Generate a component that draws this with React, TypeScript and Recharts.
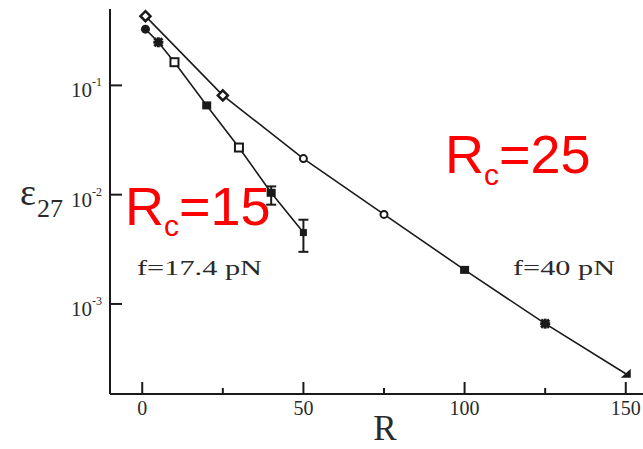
import { ErrorBar, Line, LineChart, XAxis, YAxis } from "recharts";

// f = 40 pN  (Rc = 25)
const R_F40 = [1, 25, 50, 75, 100, 125, 150];
const EPS_F40 = [0.43, 0.081, 0.0214, 0.0066, 0.00205, 0.00066, 0.00023];

// f = 17.4 pN  (Rc = 15)
const R_F17 = [1, 5, 10, 20, 30, 40, 50];
const EPS_F17 = [0.327, 0.248, 0.163, 0.0656, 0.027, 0.0104, 0.0045];

// error bars on the last two f = 17.4 points
const ERR_R = [40, 50];
const ERR_EPS = [0.0104, 0.0045];
const ERR_LOW = [0.0023, 0.0015];
const ERR_HIGH = [0.0015, 0.0014];

const X_TICKS = [0, 25, 50, 75, 100, 125, 150];
const X_LABELED = [0, 50, 100, 150];
const Y_TICKS = [0.001, 0.01, 0.1];

const data40 = R_F40.map((R, i) => ({ R, eps: EPS_F40[i] }));
const data17 = R_F17.map((R, i) => ({ R, eps: EPS_F17[i] }));
const dataErr = ERR_R.map((R, i) => ({ R, eps: ERR_EPS[i], err: [ERR_LOW[i], ERR_HIGH[i]] }));

const MARKS_40 = ["diamond", "diamond", "circleOpen", "circleOpen", "square", "star", "triangle"];
const MARKS_17 = ["circle", "star", "squareOpen", "square", "squareOpen", "square", "squareSmall"];

const INK = "#1a1a1a";
const SERIF = "'Liberation Serif', 'DejaVu Serif', serif";
const SANS = "'Liberation Sans', Arial, sans-serif";

function marker(kind: string, cx: number, cy: number, key: string) {
  switch (kind) {
    case "circle":
      return <circle key={key} cx={cx} cy={cy} r={4.5} fill={INK} />;
    case "circleOpen":
      return <circle key={key} cx={cx} cy={cy} r={3.5} fill="#fff" stroke={INK} strokeWidth={2} />;
    case "square":
      return <rect key={key} x={cx - 4.5} y={cy - 4} width={9} height={8} fill={INK} />;
    case "squareSmall":
      return <rect key={key} x={cx - 3.5} y={cy - 3.5} width={7} height={7} fill={INK} />;
    case "squareOpen":
      return (
        <rect key={key} x={cx - 4} y={cy - 4} width={8} height={8} fill="#fff" stroke={INK} strokeWidth={2} />
      );
    case "diamond":
      return (
        <path
          key={key}
          d={`M${cx},${cy - 5}L${cx + 5},${cy}L${cx},${cy + 5}L${cx - 5},${cy}Z`}
          fill="#fff"
          stroke={INK}
          strokeWidth={2.5}
        />
      );
    case "triangle":
      return <path key={key} d={`M${cx + 5},${cy - 5}L${cx + 5},${cy + 4}L${cx - 5},${cy + 4}Z`} fill={INK} />;
    case "star":
    default:
      return (
        <g key={key} stroke={INK} strokeWidth={3}>
          <line x1={cx - 5} y1={cy} x2={cx + 5} y2={cy} />
          <line x1={cx} y1={cy - 5} x2={cx} y2={cy + 5} />
          <line x1={cx - 4} y1={cy - 4} x2={cx + 4} y2={cy + 4} />
          <line x1={cx - 4} y1={cy + 4} x2={cx + 4} y2={cy - 4} />
        </g>
      );
  }
}

function dotRenderer(marks: string[], id: string) {
  return (p: any) => marker(marks[p.index], p.cx, p.cy, `${id}-${p.index}`);
}

function XTick({ x, y, payload }: any) {
  const major = X_LABELED.includes(payload.value);
  return (
    <g>
      <line x1={x} y1={y} x2={x} y2={y - (major ? 12 : 6)} stroke={INK} strokeWidth={2} />
      {major && (
        <text x={x} y={y + 21} textAnchor="middle" fontSize={20} fontFamily={SERIF} fill="#2a2a2a">
          {payload.value}
        </text>
      )}
    </g>
  );
}

function YTick({ x, y, payload }: any) {
  const exp = Math.round(Math.log10(payload.value));
  return (
    <g>
      <line x1={x} y1={y} x2={x + 12} y2={y} stroke={INK} strokeWidth={2} />
      <text x={x - 8} y={y + 12} textAnchor="end" fontSize={21} fontFamily={SERIF} fill="#2a2a2a">
        10
        <tspan dy={-11} fontSize={12}>
          {exp}
        </tspan>
      </text>
    </g>
  );
}

export default function App() {
  return (
    <div
      style={{
        position: "absolute",
        left: 0,
        top: 0,
        width: 643,
        height: 449,
        overflow: "hidden",
        background: "#fff",
      }}
    >
      <LineChart width={680} height={449} margin={{ top: 9, right: 22, bottom: 0, left: 0 }}>
        <XAxis
          dataKey="R"
          type="number"
          domain={[-10, 160]}
          allowDataOverflow
          ticks={X_TICKS}
          interval={0}
          height={55}
          tickSize={0}
          tickMargin={0}
          tickLine={false}
          tick={<XTick />}
          axisLine={{ stroke: INK, strokeWidth: 2 }}
        />
        <XAxis
          xAxisId="top"
          orientation="top"
          type="number"
          domain={[-10, 160]}
          height={0}
          tick={false}
          tickLine={false}
          axisLine={{ stroke: INK, strokeWidth: 2 }}
        />
        <YAxis
          type="number"
          scale="log"
          domain={[1.5e-4, 0.5]}
          allowDataOverflow
          ticks={Y_TICKS}
          interval={0}
          width={110}
          tickSize={0}
          tickMargin={0}
          tickLine={false}
          tick={<YTick />}
          axisLine={{ stroke: INK, strokeWidth: 2 }}
        />
        <Line
          data={data40}
          dataKey="eps"
          stroke={INK}
          strokeWidth={1.6}
          dot={dotRenderer(MARKS_40, "f40")}
          activeDot={false}
          isAnimationActive={false}
        />
        <Line
          data={data17}
          dataKey="eps"
          stroke={INK}
          strokeWidth={1.6}
          dot={dotRenderer(MARKS_17, "f17")}
          activeDot={false}
          isAnimationActive={false}
        />
        <Line
          data={dataErr}
          dataKey="eps"
          stroke="none"
          dot={false}
          activeDot={false}
          isAnimationActive={false}
        >
          <ErrorBar dataKey="err" direction="y" width={5} stroke={INK} strokeWidth={2} />
        </Line>
      </LineChart>
      <svg
        width={643}
        height={449}
        style={{ position: "absolute", left: 0, top: 0, pointerEvents: "none" }}
      >
        <text x={20} y={205} fontSize={38} fontFamily={SERIF} fill="#2a2a2a">
          ε
        </text>
        <text x={37} y={217} fontSize={26} fontFamily={SERIF} fill="#2a2a2a">
          27
        </text>
        <text x={385} y={440} textAnchor="middle" fontSize={35} fontFamily={SERIF} fill="#2a2a2a">
          R
        </text>
        <text x={137} y={275} fontSize={20} fontFamily={SERIF} fill="#2a2a2a" textLength={125} lengthAdjust="spacingAndGlyphs">
          f=17.4 pN
        </text>
        <text x={513} y={275} fontSize={20} fontFamily={SERIF} fill="#2a2a2a" textLength={102} lengthAdjust="spacingAndGlyphs">
          f=40 pN
        </text>
        <text x={125} y={225} fontSize={54} fontFamily={SANS} fill="#ff0000">
          R
          <tspan dy={11} fontSize={30}>
            c
          </tspan>
          <tspan dy={-11} fontSize={54}>
            =15
          </tspan>
        </text>
        <text x={445} y={173} fontSize={54} fontFamily={SANS} fill="#ff0000">
          R
          <tspan dy={12} fontSize={30}>
            c
          </tspan>
          <tspan dy={-12} fontSize={54}>
            =25
          </tspan>
        </text>
      </svg>
    </div>
  );
}
